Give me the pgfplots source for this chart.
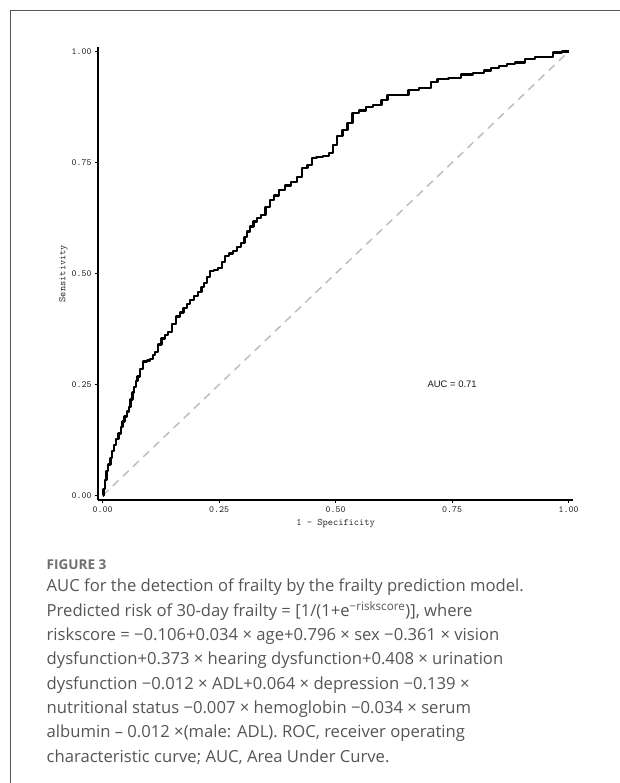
\documentclass[border=0pt]{standalone}
\usepackage{pgfplots}
\pgfplotsset{compat=1.18}
\usepackage{fontspec}
\setmainfont{Open Sans}
\setmonofont{Latin Modern Mono}
\newfontfamily\arialfont{Liberation Sans}
\definecolor{capgray}{HTML}{555555}
\definecolor{framegray}{HTML}{555555}
\definecolor{diaggray}{HTML}{BEBEBE}

\begin{document}
\begin{tikzpicture}[x=1bp,y=1bp]
\useasboundingbox (0,0) rectangle (620,783);
\draw[framegray, line width=1bp] (10.5,-20) -- (10.5,772.5) -- (640,772.5);
\begin{axis}[
  at={(98bp,283bp)}, anchor=south west,
  scale only axis, width=475.3bp, height=452.9bp,
  xmin=-0.01, xmax=1.01, ymin=-0.01, ymax=1.01,
  axis x line*=bottom, axis y line*=left,
  axis line style={black, line width=1.9bp, -},
  xtick={0,0.25,0.5,0.75,1}, ytick={0,0.25,0.5,0.75,1},
  xticklabels={0.00,0.25,0.50,0.75,1.00},
  yticklabels={0.00,0.25,0.50,0.75,1.00},
  tick align=outside, major tick length=3bp,
  tick style={black, line width=1bp},
  ticklabel style={font=\ttfamily\fontsize{9.5}{9.5}\selectfont, text=black!85},
  xlabel={1 - Specificity}, ylabel={Sensitivity},
  label style={font=\ttfamily\fontsize{10}{10}\selectfont, text=black!85},
  ylabel style={yshift=-3bp},
  clip=false,
]
\addplot[diaggray, line width=1.5bp, dash pattern=on 8bp off 6bp] coordinates {(0,0) (1,1)};
\addplot[black, line width=2.3bp, line join=round, const plot mark mid] coordinates {
(0,0) (0.003,0.015) (0.006,0.035) (0.010,0.055) (0.014,0.070) (0.019,0.084)
(0.022,0.100) (0.026,0.114) (0.031,0.128) (0.037,0.140) (0.041,0.155)
(0.044,0.167) (0.050,0.178) (0.055,0.189) (0.058,0.200) (0.062,0.216)
(0.066,0.232) (0.069,0.245) (0.073,0.258) (0.076,0.268) (0.083,0.285)
(0.091,0.302) (0.098,0.304) (0.105,0.307) (0.110,0.316) (0.116,0.324)
(0.123,0.340) (0.130,0.354) (0.137,0.362) (0.144,0.369) (0.153,0.386)
(0.162,0.403) (0.170,0.412) (0.177,0.422) (0.184,0.432) (0.191,0.441)
(0.200,0.450) (0.209,0.459) (0.215,0.470) (0.220,0.478) (0.228,0.492)
(0.234,0.505) (0.243,0.508) (0.252,0.512) (0.259,0.526) (0.266,0.540)
(0.275,0.545) (0.284,0.550) (0.293,0.559) (0.302,0.568) (0.307,0.582)
(0.312,0.595) (0.320,0.606) (0.327,0.617) (0.336,0.625) (0.345,0.632)
(0.354,0.650) (0.363,0.666) (0.372,0.676) (0.385,0.688) (0.398,0.698)
(0.410,0.706) (0.423,0.718) (0.434,0.737) (0.445,0.745) (0.452,0.760)
(0.466,0.762) (0.481,0.764) (0.491,0.771) (0.498,0.790) (0.509,0.809)
(0.520,0.824) (0.531,0.839) (0.541,0.861) (0.559,0.867) (0.570,0.875)
(0.591,0.880) (0.606,0.891) (0.617,0.902) (0.649,0.902) (0.663,0.914)
(0.695,0.918) (0.713,0.932) (0.724,0.938) (0.760,0.940) (0.777,0.948)
(0.813,0.951) (0.824,0.957) (0.842,0.963) (0.860,0.968) (0.874,0.972)
(0.896,0.975) (0.917,0.983) (0.938,0.987) (0.963,0.988) (0.971,0.998)
(1,1)
};
\node[font=\arialfont\fontsize{9.5}{9.5}\selectfont, text=black!90] at (axis cs:0.75,0.25) {AUC = 0.71};
\end{axis}
\node[anchor=base west, inner sep=0pt, font=\bfseries\fontsize{13.6}{13.6}\selectfont, text=capgray!85] at (46.5,213) {FIGURE 3};
\begin{scope}[every node/.style={anchor=base west, font=\fontsize{16.7}{16.7}\selectfont, text=capgray, inner sep=0pt}]
\node at (46.5,191) {AUC for the detection of frailty by the frailty prediction model.};
\node at (46.5,166.7) {Predicted risk of 30-day frailty = [1/(1+e\textsuperscript{−riskscore})], where};
\node at (46.5,142.4) {riskscore = −0.106+0.034 × age+0.796 × sex −0.361 × vision};
\node at (46.5,118.1) {dysfunction+0.373 × hearing dysfunction+0.408 × urination};
\node at (46.5,93.8) {dysfunction −0.012 × ADL+0.064 × depression −0.139 ×};
\node at (46.5,69.5) {nutritional status −0.007 × hemoglobin −0.034 × serum};
\node at (46.5,45.2) {albumin – 0.012 ×(male: ADL). ROC, receiver operating};
\node at (46.5,20.9) {characteristic curve; AUC, Area Under Curve.};
\end{scope}
\end{tikzpicture}
\end{document}
